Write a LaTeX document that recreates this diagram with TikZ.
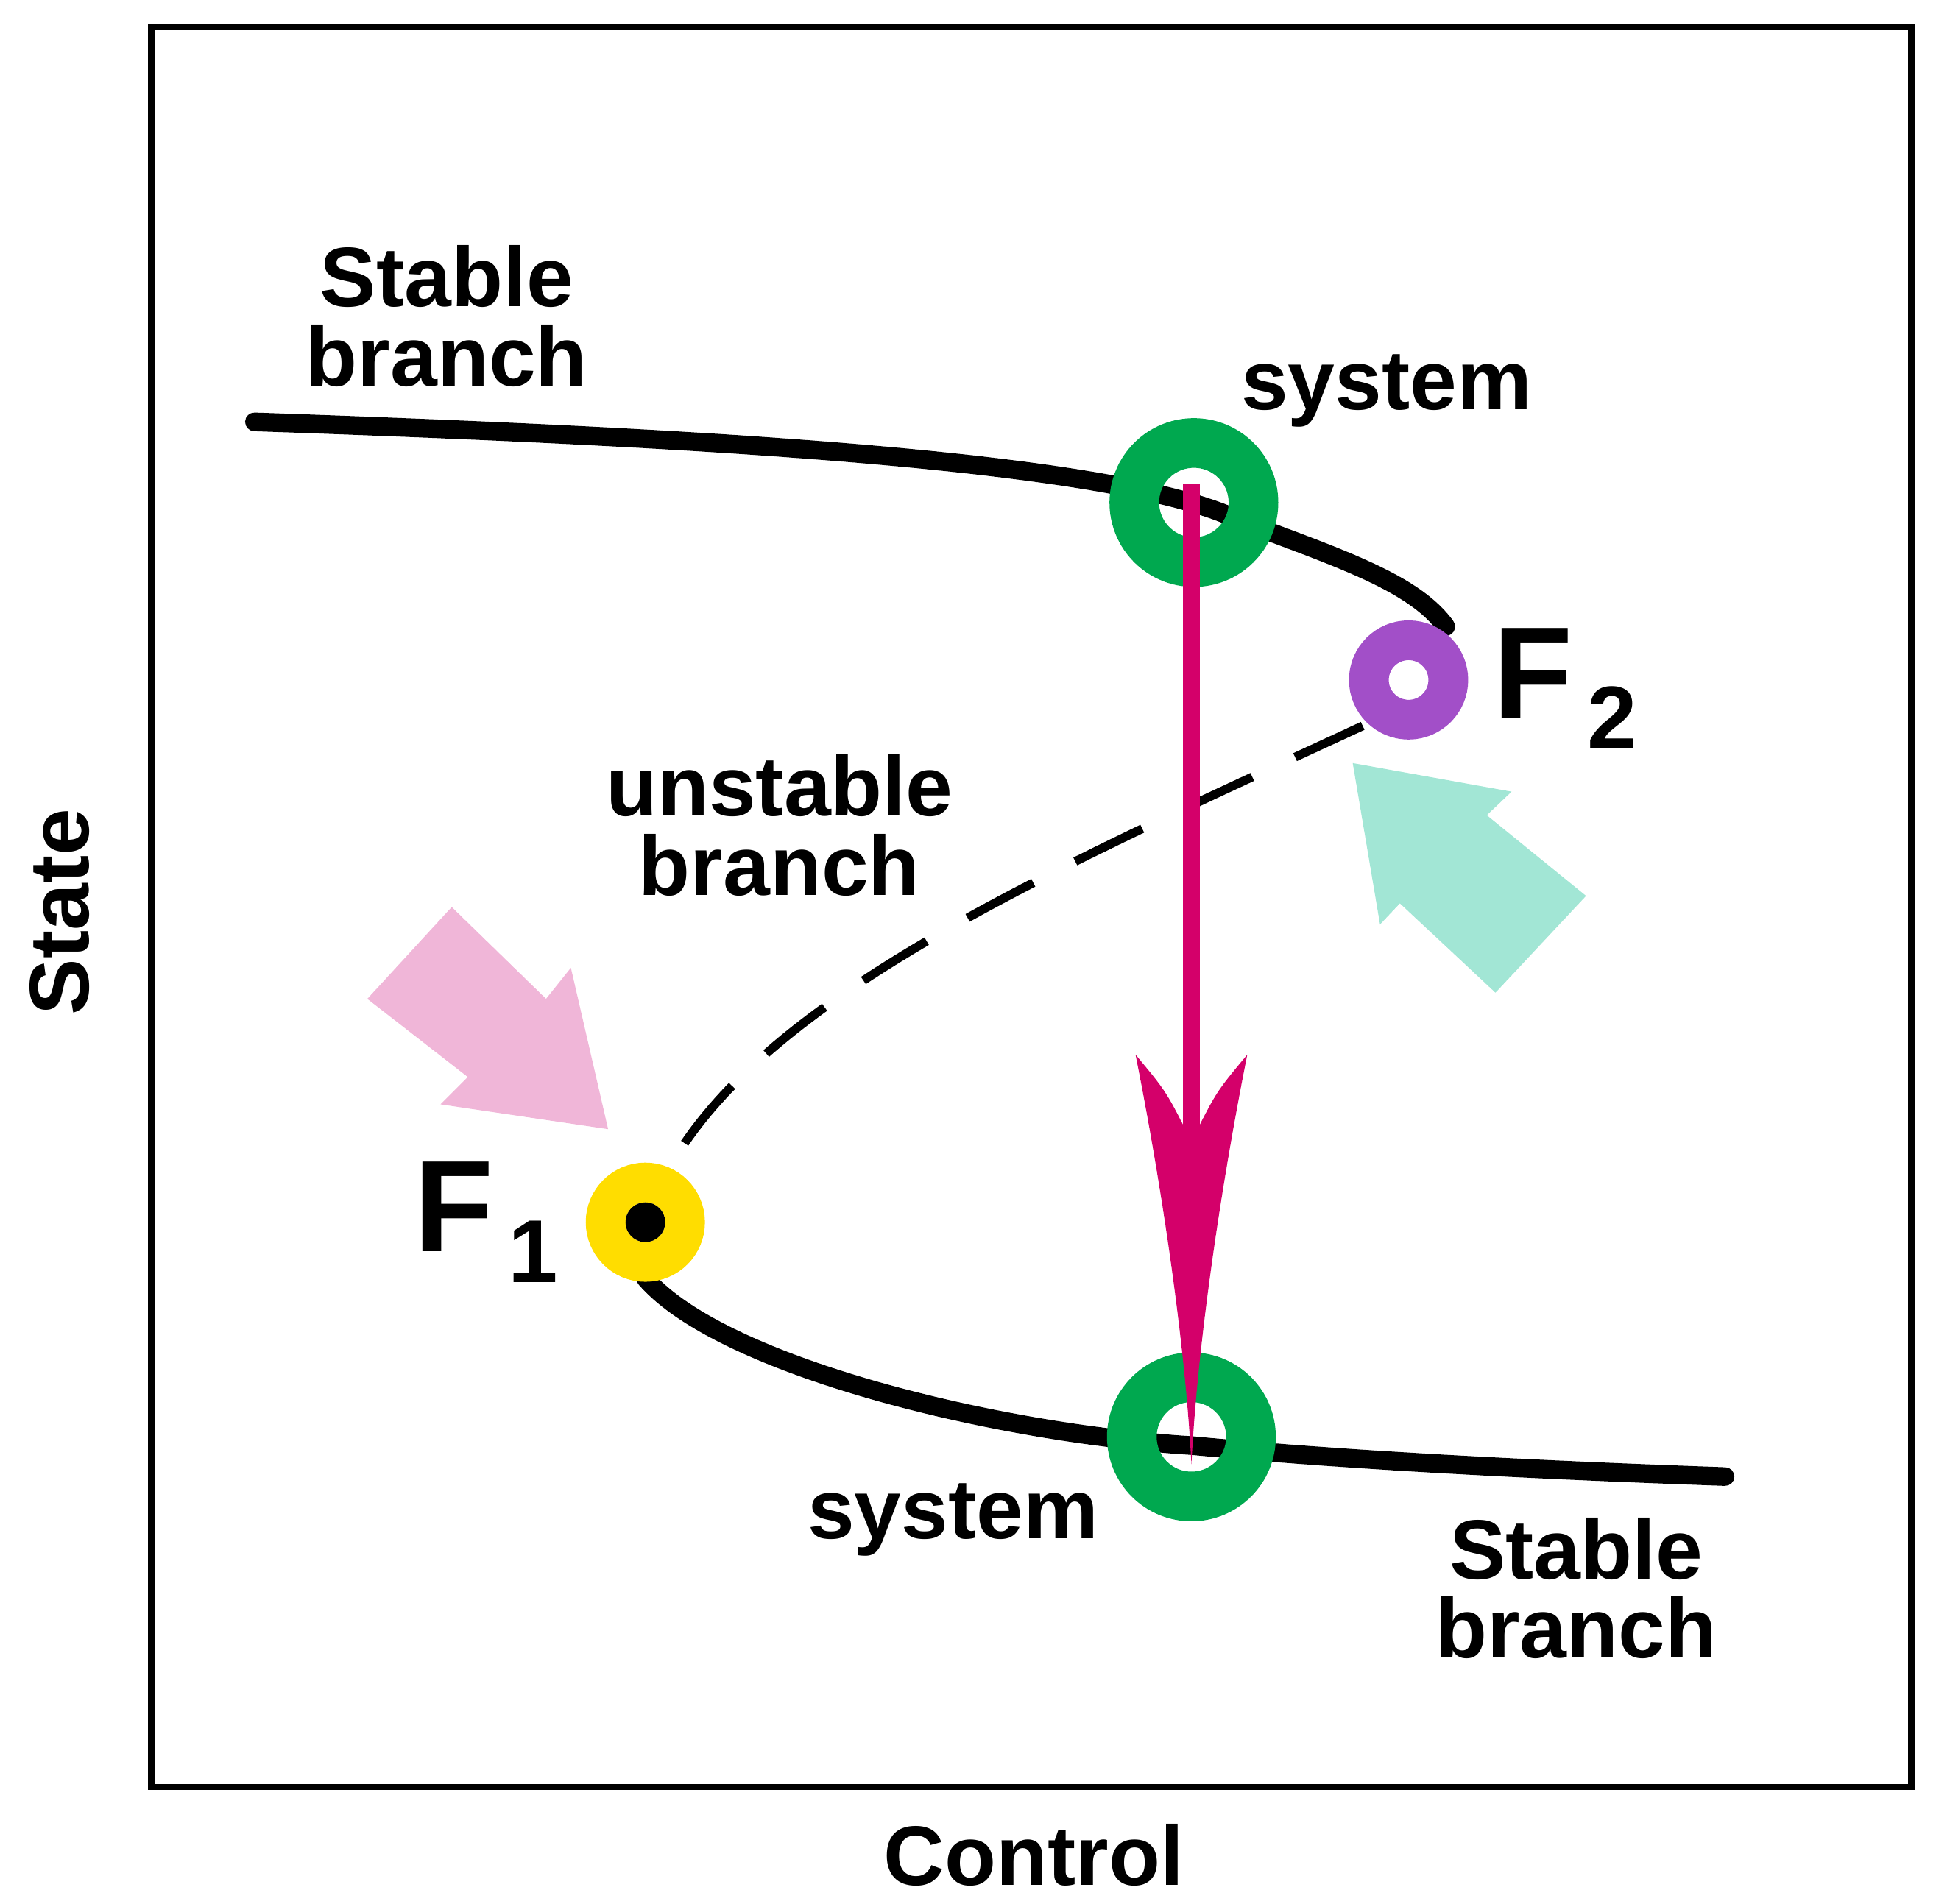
\documentclass[tikz,border=0pt]{standalone}
\usepackage{fontspec}
\setmainfont{Liberation Sans}
\begin{document}
\begin{tikzpicture}[x=1pt,y=-1pt,
  lbl/.style={font=\fontsize{68}{64}\selectfont\bfseries,align=center,inner sep=0},
  flbl/.style={font=\fontsize{105}{105}\selectfont\bfseries,inner sep=0},
  branch/.style={line width=15pt,line cap=round},
  ring/.style={line width=40pt}]
\useasboundingbox (0,0) rectangle (1560,1534);
\definecolor{mag}{HTML}{D4006A}
\definecolor{grn}{HTML}{00A84F}
\definecolor{pur}{HTML}{A24FC8}
\definecolor{yel}{HTML}{FFDD00}
\definecolor{pnk}{HTML}{F0B6D8}
\definecolor{tea}{HTML}{A2E6D5}
\draw[line width=5pt] (122,22) rectangle (1540,1440);
\node[lbl,rotate=90] (state) at (48,735) {State};
\node[lbl] (control) at (833,1495) {Control};
% branches
\coordinate (u0) at (205,340);
\coordinate (u1) at (1165,505);
\draw[branch] (u0) .. controls (550,352) and (900,370) .. (1000,420) .. controls (1080,450) and (1140,470) .. (u1);
\coordinate (l0) at (520,1030);
\coordinate (l1) at (1390,1190);
\draw[branch] (l0) .. controls (580,1100) and (800,1155) .. (960,1165) .. controls (1100,1178) and (1250,1185) .. (l1);
\coordinate (d0) at (1098,585);
\coordinate (d1) at (540,940);
\draw[line width=7pt,dash pattern=on 60pt off 38pt] (d0) .. controls (850,700) and (620,800) .. (d1);
% block arrows
\fill[pnk] (296,805) -- (364,731) -- (440,805) -- (460,780) -- (490,910) -- (355,890) -- (377,868) -- cycle;
\fill[tea] (1090,615) -- (1218,638) -- (1198,657) -- (1278,722) -- (1205,800) -- (1128,728) -- (1112,745) -- cycle;
% circles
\draw[ring,grn] (962,405) circle (48);
\draw[ring,grn] (960,1158) circle (48);
\draw[line width=32pt,pur] (1135,548) circle (32);
\draw[line width=32pt,yel] (520,985) circle (32);
\fill (520,985) circle (16);
\node (sysU) at (960,390) {};
\node (sysL) at (960,1158) {};
% magenta arrow
\draw[mag,line width=14pt] (sysU.center) -- (960,930);
\fill[mag] (960,920) .. controls (940,880) .. (915,850) .. controls (935,950) and (955,1080) .. (960,1180) .. controls (965,1080) and (985,950) .. (1005,850) .. controls (980,880) .. cycle;
% labels
\node[lbl] (sb1) at (360,255) {Stable\\branch};
\node[lbl,anchor=west] (s1) at (1000,315) {system};
\node[flbl,anchor=west] (f2) at (1203,555) {F\raisebox{-25pt}{\fontsize{72}{72}\selectfont\,2}};
\node[lbl] (ub) at (628,665) {unstable\\branch};
\node[flbl,anchor=east] (f1) at (450,985) {F\raisebox{-25pt}{\fontsize{72}{72}\selectfont\,1}};
\node[lbl] (s2) at (768,1225) {system};
\node[lbl] (sb2) at (1270,1280) {Stable\\branch};
\end{tikzpicture}
\end{document}
